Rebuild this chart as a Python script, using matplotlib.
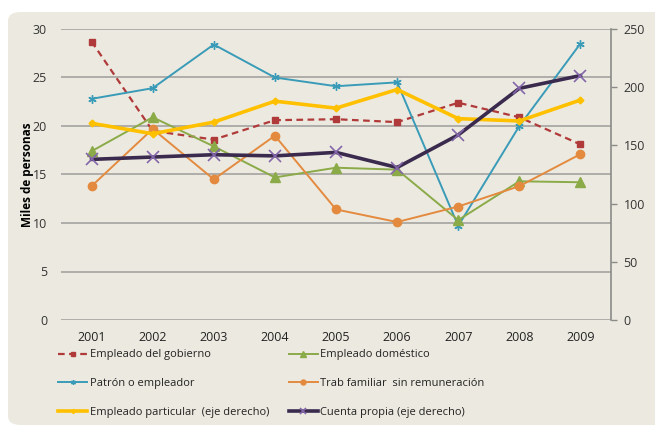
import numpy as np
import matplotlib.pyplot as plt
from matplotlib.patches import FancyBboxPatch

plt.rcParams['font.family'] = ['Open Sans', 'DejaVu Sans']

years = [2001, 2002, 2003, 2004, 2005, 2006, 2007, 2008, 2009]

# left axis (miles de personas)
gobierno = [28.7, 19.5, 18.6, 20.6, 20.7, 20.4, 22.4, 20.9, 18.1]
patron = [22.8, 23.9, 28.4, 25.0, 24.1, 24.5, 9.7, 20.0, 28.5]
domestico = [17.4, 20.9, 17.9, 14.7, 15.7, 15.5, 10.3, 14.3, 14.2]
trab_familiar = [13.8, 19.7, 14.5, 19.0, 11.4, 10.1, 11.7, 13.8, 17.1]

# right axis
particular = [169, 160, 170, 188, 182, 198, 173, 171, 189]
cuenta_propia = [138, 140, 142, 141, 144, 131, 159, 199, 210]

BG = '#ECEAE0'
GRID = '#A3A3A0'

fig = plt.figure(figsize=(6.55, 4.28), dpi=100)
fig.patch.set_facecolor('white')
bg = FancyBboxPatch((8/655, 3/428), 660/655, 413/428,
                    boxstyle='round,pad=0,rounding_size=0.02',
                    transform=fig.transFigure, facecolor=BG, edgecolor='none', zorder=-10)
fig.patches.append(bg)

ax = fig.add_axes([61/655, 1 - 320/428, 550/655, 291/428])
ax.set_facecolor('none')
ax2 = ax.twinx()

x = np.arange(len(years))

h1, = ax.plot(x, gobierno, color='#B03A3A', ls=(0, (3, 2)), lw=1.6, marker='s', ms=4)
h2, = ax.plot(x, patron, color='#3A9BB8', lw=1.4, marker=(6, 2, 0), ms=6, mew=1)
h3, = ax.plot(x, domestico, color='#8BAA48', lw=1.4, marker='^', ms=7)
h4, = ax.plot(x, trab_familiar, color='#E38A3F', lw=1.4, marker='o', ms=6)
h5, = ax2.plot(x, particular, color='#FFC000', lw=2.6, marker='D', ms=3.5)
h6, = ax2.plot(x, cuenta_propia, color='#3A2A4E', lw=2.6, marker='x', ms=8,
               mec='#8466AA', mew=1.2)

ax.set_xlim(-0.5, len(years) - 0.5)
ax.set_ylim(0, 30)
ax.set_yticks(range(0, 31, 5))
ax2.set_ylim(0, 250)
ax2.set_yticks(range(0, 251, 50))
ax.set_xticks(x)
ax.set_xticklabels([str(y) for y in years])

ax.grid(axis='y', color=GRID, lw=1.2)
ax.set_axisbelow(True)
for a in (ax, ax2):
    for s in a.spines.values():
        s.set_visible(False)
ax2.spines['right'].set_visible(True)
ax2.spines['right'].set_color('#8A8A88')
ax2.spines['right'].set_linewidth(1.2)

ax.tick_params(axis='y', length=0, labelsize=9, colors='#333333', pad=10)
ax.tick_params(axis='x', length=0, labelsize=9, colors='#222222', pad=8)
ax2.tick_params(axis='y', length=4, width=1, color='#8A8A88', labelsize=9,
                labelcolor='#333333', pad=5)

ax.set_ylabel('Miles de personas', fontsize=8.5, fontweight='bold', labelpad=-1)

leg = fig.legend([h1, h2, h5, h3, h4, h6],
                 ['Empleado del gobierno', 'Patrón o empleador',
                  'Empleado particular  (eje derecho)',
                  'Empleado doméstico', 'Trab familiar  sin remuneración',
                  'Cuenta propia (eje derecho)'],
                 ncol=2, frameon=False, loc='upper left',
                 bbox_to_anchor=(54/655, 1 - 345/428),
                 fontsize=8, handlelength=2.6, handletextpad=0.2, markerscale=0.6,
                 labelspacing=1.6, columnspacing=1.8, borderaxespad=0)
for t in leg.get_texts():
    t.set_color('#222222')

fig.savefig('out.png', dpi=100)
